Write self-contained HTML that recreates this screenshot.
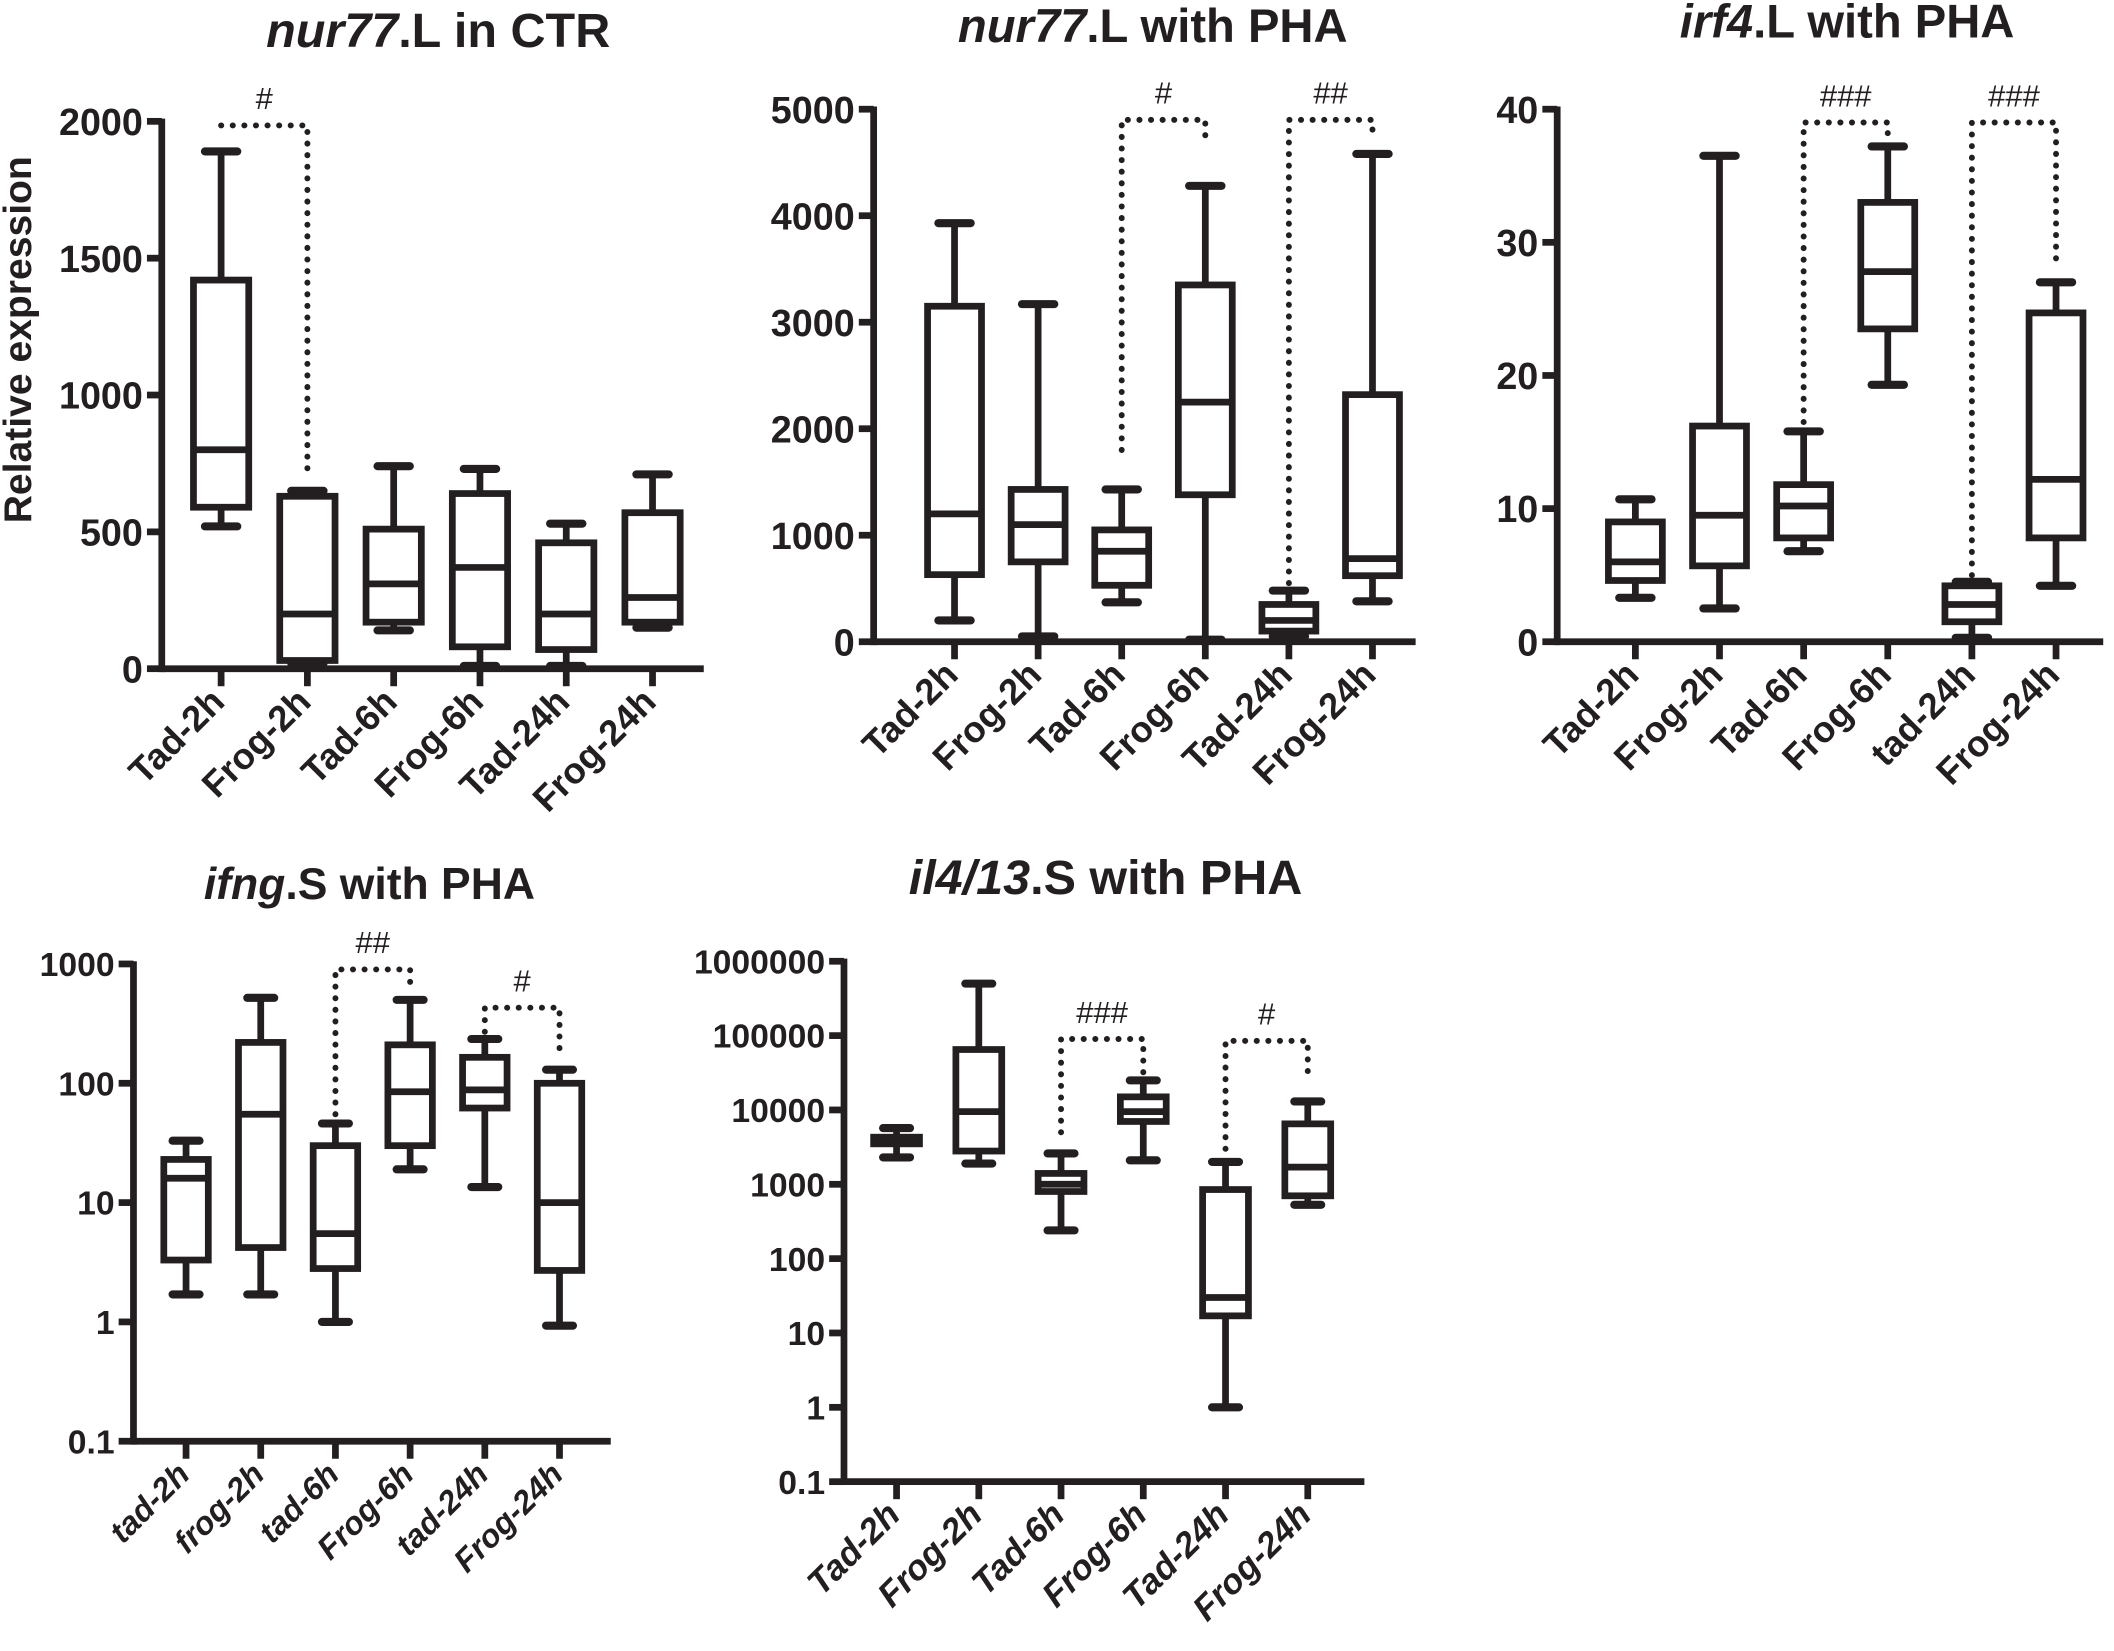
<!DOCTYPE html>
<html><head><meta charset="utf-8"><style>
html,body{margin:0;padding:0;background:#fff}
svg{display:block}
text{font-family:"Liberation Sans",Arial,sans-serif;fill:#231f20}
</style></head><body>
<svg id="fig" width="2114" height="1651" viewBox="0 0 1568 1224.6" preserveAspectRatio="none" xmlns="http://www.w3.org/2000/svg"></svg>
<script>
// ---- Panel 1: nur77.L in CTR ----
const p1Cats = ["Tad-2h","Frog-2h","Tad-6h","Frog-6h","Tad-24h","Frog-24h"];
const p1Box = [[520,590,800,1420,1890],[20,30,200,630,650],[140,170,310,510,740],[10,80,370,640,730],[10,70,200,460,530],[150,170,260,570,710]];
const p1Ticks = [0,500,1000,1500,2000];
// ---- Panel 2: nur77.L with PHA ----
const p2Cats = ["Tad-2h","Frog-2h","Tad-6h","Frog-6h","Tad-24h","Frog-24h"];
const p2Box = [[200,630,1200,3150,3930],[50,750,1100,1430,3170],[370,530,850,1050,1430],[20,1380,2250,3350,4280],[50,100,200,350,480],[380,620,780,2320,4580]];
const p2Ticks = [0,1000,2000,3000,4000,5000];
// ---- Panel 3: irf4.L with PHA ----
const p3Cats = ["Tad-2h","Frog-2h","Tad-6h","Frog-6h","tad-24h","Frog-24h"];
const p3Box = [[3.3,4.6,6,9,10.7],[2.5,5.7,9.5,16.2,36.5],[6.8,7.8,10.2,11.8,15.8],[19.3,23.5,27.8,33,37.2],[0.3,1.5,2.8,4.2,4.5],[4.2,7.8,12.2,24.7,27]];
const p3Ticks = [0,10,20,30,40];
// ---- Panel 4: ifng.S with PHA (log) ----
const p4Cats = ["tad-2h","frog-2h","tad-6h","Frog-6h","tad-24h","Frog-24h"];
const p4Box = [[1.7,3.3,16,23,33],[1.7,4.2,55,220,520],[1,2.8,5.5,30,46],[19,30,85,210,500],[13.5,62,88,165,235],[0.93,2.7,10,100,130]];
const p4Ticks = [0.1,1,10,100,1000];
const p4TickLabels = ["0.1","1","10","100","1000"];
// ---- Panel 5: il4/13.S with PHA (log) ----
const p5Cats = ["Tad-2h","Frog-2h","Tad-6h","Frog-6h","Tad-24h","Frog-24h"];
const p5Box = [[2300,3500,4000,4300,5700],[1900,2800,9500,65000,500000],[240,800,1000,1400,2600],[2100,7000,9500,15000,25000],[1,17,30,850,2000],[530,700,1700,6500,13000]];
const p5Ticks = [0.1,1,10,100,1000,10000,100000,1000000];
const p5TickLabels = ["0.1","1","10","100","1000","10000","100000","1000000"];
// significance brackets: [fromIndex,toIndex,bracketValue,leftValue,rightValue,label]
const p1Sig = [[0,1,1985,1985,720,"#"]];
const p2Sig = [[2,3,4900,1800,4700,"#"],[4,5,4900,550,4750,"##"]];
const p3Sig = [[2,3,39,16.5,37.5,"###"],[4,5,39,5,28,"###"]];
const p4Sig = [[2,3,900,55,620,"##"],[4,5,430,270,180,"#"]];
const p5Sig = [[2,3,90000,5000,30000,"###"],[4,5,85000,3000,30000,"#"]];

const NS="http://www.w3.org/2000/svg";
const svg=document.getElementById('fig');
function mk(tag,attrs,parent){const e=document.createElementNS(NS,tag);for(const k in attrs)e.setAttribute(k,attrs[k]);(parent||svg).appendChild(e);return e;}

function panel(o){
  const g=mk('g',{});
  
  
  const lg=v=>Math.log10(v);
  const y=o.log?(v=>o.y0+(lg(v)-lg(o.vmin))/(lg(o.vmax)-lg(o.vmin))*(o.y1-o.y0)):(v=>o.y0+(v-o.vmin)/(o.vmax-o.vmin)*(o.y1-o.y0));
  const x=i=>o.xStart+i*o.xStep;
  const sw=5;
  const t=mk('text',{x:o.tx,y:o.ty,'text-anchor':'middle','font-size':o.tfs,'font-weight':'bold'},g);
  
  
  const ti=mk('tspan',{'font-style':'italic'},t);ti.textContent=o.titleI;
  const tr=mk('tspan',{},t);tr.textContent=o.titleR;
  const ya=mk('line',{x1:o.ax,y1:o.y1-2,x2:o.ax,y2:o.y0+sw/2,stroke:'#231f20','stroke-width':sw},g);
  
  
  const xa=mk('line',{x1:o.ax,y1:o.y0,x2:o.axEnd,y2:o.y0,stroke:'#231f20','stroke-width':sw},g);
  
  
  o.ticks.forEach((v,i)=>{
    const yy=y(v);
    mk('line',{x1:o.ax-11,y1:yy,x2:o.ax,y2:yy,stroke:'#231f20','stroke-width':sw},g);
    const tl=mk('text',{x:o.ax-14,y:yy+o.lfs*0.36,'text-anchor':'end','font-size':o.lfs,'font-weight':'bold'},g);
    
    
    tl.textContent=o.tickLabels?o.tickLabels[i]:String(v);
  });
  o.cats.forEach((c,i)=>{
    const xx=x(i);
    mk('line',{x1:xx,y1:o.y0,x2:xx,y2:o.y0+13,stroke:'#231f20','stroke-width':sw},g);
    const cl=mk('text',{x:0,y:0,'text-anchor':'end','font-size':o.xfs,'font-weight':'bold','font-style':o.catItalic?'italic':'normal',transform:`translate(${xx+4},${o.y0+26}) rotate(-45)`},g);
    
    
    cl.textContent=c;
    const b=o.box[i];
    const bg=mk('g',{fill:'none',stroke:'#231f20','stroke-width':sw},g);
    
    
    const hw=o.bw/2,cw=o.cw/2;
    mk('line',{x1:xx,y1:y(b[0]),x2:xx,y2:y(b[1])},bg);
    mk('line',{x1:xx,y1:y(b[3]),x2:xx,y2:y(b[4])},bg);
    mk('line',{x1:xx-cw,y1:y(b[0]),x2:xx+cw,y2:y(b[0]),'stroke-linecap':'round','stroke-width':sw+1},bg);
    mk('line',{x1:xx-cw,y1:y(b[4]),x2:xx+cw,y2:y(b[4]),'stroke-linecap':'round','stroke-width':sw+1},bg);
    mk('rect',{x:xx-hw,y:y(b[3]),width:o.bw,height:Math.max(0,y(b[1])-y(b[3])),fill:'#fff'},bg);
    mk('line',{x1:xx-hw,y1:y(b[2]),x2:xx+hw,y2:y(b[2])},bg);
  });
  o.sig.forEach(s=>{
    const xa_=x(s[0]),xb=x(s[1]),yb=y(s[2]);
    const sg=mk('path',{d:`M${xa_},${y(s[3])} L${xa_},${yb} L${xb},${yb} L${xb},${y(s[4])}`,fill:'none',stroke:'#231f20','stroke-width':4.4,'stroke-dasharray':'0.1 8.5','stroke-linecap':'round'},g);
    
    
    const st=mk('text',{x:(xa_+xb)/2,y:yb-12,'text-anchor':'middle','font-size':23},g);
    
    
    st.textContent=s[5];
  });
}

panel({name:'panel-nur77-ctr',titleI:'nur77',titleR:'.L in CTR',tx:325,ty:35,tfs:36,cats:p1Cats,box:p1Box,ticks:p1Ticks,sig:p1Sig,
  ax:120,axEnd:522,y0:496,y1:90,vmin:0,vmax:2000,xStart:164,xStep:64,bw:41,cw:24,lfs:28,xfs:27});
panel({name:'panel-nur77-pha',titleI:'nur77',titleR:'.L with PHA',tx:855,ty:31,tfs:35,cats:p2Cats,box:p2Box,ticks:p2Ticks,sig:p2Sig,
  ax:648,axEnd:1050,y0:476,y1:81,vmin:0,vmax:5000,xStart:708,xStep:62,bw:40,cw:24,lfs:28,xfs:27});
panel({name:'panel-irf4-pha',titleI:'irf4',titleR:'.L with PHA',tx:1370,ty:28,tfs:35,cats:p3Cats,box:p3Box,ticks:p3Ticks,sig:p3Sig,
  ax:1155,axEnd:1560,y0:476,y1:81,vmin:0,vmax:40,xStart:1213,xStep:62.4,bw:40,cw:24,lfs:28,xfs:27});
panel({name:'panel-ifng-pha',titleI:'ifng',titleR:'.S with PHA',tx:274,ty:667,tfs:33,cats:p4Cats,box:p4Box,ticks:p4Ticks,tickLabels:p4TickLabels,sig:p4Sig,
  log:true,ax:99,axEnd:453,y0:1069,y1:715,vmin:0.1,vmax:1000,xStart:138,xStep:55.4,bw:33,cw:20,lfs:25,xfs:24,catItalic:true});
panel({name:'panel-il4-13-pha',titleI:'il4/13',titleR:'.S with PHA',tx:820,ty:663,tfs:36,cats:p5Cats,box:p5Box,ticks:p5Ticks,tickLabels:p5TickLabels,sig:p5Sig,
  log:true,ax:626,axEnd:1012,y0:1099,y1:713,vmin:0.1,vmax:1000000,xStart:665,xStep:61,bw:34,cw:20,lfs:25,xfs:26,catItalic:true});

const yl=mk('text',{x:0,y:0,'text-anchor':'middle','font-size':29,'font-weight':'bold',transform:'translate(23,252) rotate(-90)'});


yl.textContent='Relative expression';
</script>
</body></html>
